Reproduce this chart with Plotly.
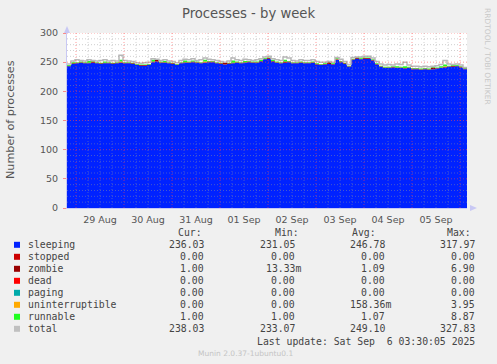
import pandas as pd
import plotly.graph_objects as go

# ---------------- data ----------------
start_time = "2025-08-28 19:30"
end_time = "2025-09-06 03:30"
step = "2h"

sleeping = [243, 247, 248, 249, 248, 248, 249, 248, 247, 248,
            248, 247, 248, 249, 248, 248, 247, 245, 244, 244,
            245, 250, 251, 249, 249, 248, 247, 245, 248, 249,
            249, 250, 249, 248, 249, 250, 250, 248, 247, 246,
            247, 248, 249, 248, 249, 250, 249, 249, 251, 255,
            256, 251, 249, 248, 249, 250, 248, 248, 249, 248,
            248, 249, 246, 245, 246, 247, 246, 254, 250, 247,
            242, 254, 256, 255, 256, 256, 253, 246, 242, 240,
            240, 241, 240, 240, 239, 240, 238, 238, 237, 238,
            237, 238, 239, 240, 241, 242, 242, 243, 241, 238]
stopped = [0] * 100
zombie = [1, 1, 1, 1, 1, 1, 2, 1, 1, 1,
          1, 1, 1, 1, 1, 1, 1, 1, 1, 1,
          1, 1, 3, 1, 1, 1, 1, 1, 1, 1,
          1, 1, 1, 1, 1, 1, 1, 1, 1, 3,
          1, 1, 1, 1, 1, 1, 1, 1, 1, 1,
          1, 1, 1, 1, 2, 1, 1, 1, 1, 1,
          1, 1, 1, 1, 1, 3, 1, 1, 1, 1,
          1, 1, 2, 1, 1, 1, 1, 1, 1, 1,
          1, 1, 1, 1, 1, 1, 1, 1, 1, 1,
          1, 3, 1, 1, 1, 1, 2, 1, 1, 1]
dead = [0] * 100
paging = [0] * 100
uninterruptible = [0, 0, 0, 0, 0, 0, 0, 0, 0, 0,
                   0, 0, 0, 1, 0, 0, 0, 0, 0, 0,
                   0, 0, 0, 0, 0, 0, 0, 0, 0, 0,
                   0, 0, 0, 0, 1, 0, 0, 0, 0, 0,
                   0, 0, 0, 0, 0, 0, 0, 0, 0, 0,
                   0, 0, 0, 0, 0, 0, 0, 0, 0, 0,
                   0, 0, 0, 0, 0, 0, 0, 1, 0, 0,
                   0, 0, 0, 0, 0, 0, 0, 0, 0, 0,
                   0, 0, 0, 0, 0, 0, 0, 0, 0, 0,
                   0, 0, 0, 0, 1, 0, 0, 0, 0, 0]
runnable = [1, 2, 1, 1, 1, 3, 1, 1, 1, 2,
            1, 1, 1, 3, 1, 1, 1, 1, 1, 1,
            1, 3, 1, 1, 2, 1, 1, 1, 1, 3,
            1, 2, 1, 1, 3, 1, 1, 1, 1, 1,
            1, 4, 1, 1, 2, 1, 1, 1, 2, 1,
            1, 2, 1, 1, 3, 1, 1, 1, 1, 1,
            1, 1, 1, 1, 1, 1, 1, 2, 1, 1,
            1, 1, 1, 2, 1, 1, 1, 1, 1, 1,
            1, 1, 2, 1, 3, 1, 1, 1, 1, 1,
            1, 1, 1, 2, 3, 1, 1, 1, 1, 1]
total = [247, 252, 254, 253, 252, 254, 253, 252, 253, 254,
         252, 253, 252, 262, 253, 252, 251, 249, 248, 249,
         250, 256, 255, 253, 254, 252, 251, 249, 253, 255,
         254, 256, 253, 254, 257, 255, 254, 253, 251, 250,
         252, 257, 254, 253, 255, 254, 253, 254, 256, 259,
         260, 256, 254, 253, 259, 257, 253, 252, 254, 253,
         253, 254, 251, 250, 250, 251, 250, 258, 255, 251,
         246, 258, 259, 259, 260, 260, 257, 251, 247, 245,
         246, 245, 247, 246, 250, 245, 243, 243, 242, 243,
         242, 243, 244, 246, 253, 247, 246, 247, 245, 241]

series_names = ["sleeping", "stopped", "zombie", "dead", "paging",
                "uninterruptible", "runnable", "total"]
series_colors = ["#0022ff", "#cc0000", "#990000", "#ff0000", "#00aaaa",
                 "#ffaa00", "#22ff22", "#c0c0c0"]
cur_vals = ["236.03", "0.00", "1.00", "0.00", "0.00", "0.00", "1.00", "238.03"]
min_vals = ["231.05", "0.00", "13.33m", "0.00", "0.00", "0.00", "1.00", "233.07"]
avg_vals = ["246.78", "0.00", "1.09", "0.00", "0.00", "158.36m", "1.07", "249.10"]
max_vals = ["317.97", "0.00", "6.90", "0.00", "0.00", "3.95", "8.87", "327.83"]

day_labels = ["29 Aug", "30 Aug", "31 Aug", "01 Sep", "02 Sep",
              "03 Sep", "04 Sep", "05 Sep"]
day_noons = ["2025-08-29 12:00", "2025-08-30 12:00", "2025-08-31 12:00",
             "2025-09-01 12:00", "2025-09-02 12:00", "2025-09-03 12:00",
             "2025-09-04 12:00", "2025-09-05 12:00"]
y_ticks = [0, 50, 100, 150, 200, 250, 300]

# ---------------- figure ----------------
W, H = 497, 364
L, R, T, B = 67, 467, 33, 208


def px(x):
    return (x - L) / (R - L)


def py(y):
    return (B - y) / (B - T)


times = pd.date_range(start_time, periods=len(sleeping) + 1, freq=step)


def ext(v):
    return list(v) + [v[-1]]


fig = go.Figure()
stack = [sleeping, stopped, zombie, dead, paging, uninterruptible, runnable]
for name, col, vals in zip(series_names[:7], series_colors[:7], stack):
    fig.add_trace(go.Scatter(
        x=times, y=ext(vals), name=name, mode="lines",
        stackgroup="procs", line=dict(width=0, shape="hv", color=col),
        fillcolor=col, hoverinfo="skip"))
fig.add_trace(go.Scatter(
    x=times, y=ext(total), name="total", mode="lines",
    line=dict(width=1.5, shape="hv", color="#b8b8b8"), hoverinfo="skip"))

shapes = []
# horizontal grid (above data, like rrdtool)
for v in range(10, 301, 10):
    major = v % 50 == 0
    shapes.append(dict(
        type="line", xref="paper", yref="y", x0=0, x1=1.005, y0=v, y1=v,
        layer="above",
        line=dict(width=1, dash="1px,2px",
                  color="rgba(255,70,70,0.55)" if major else "rgba(150,150,150,0.45)")))
# vertical grid
for t in pd.date_range("2025-08-29 00:00", "2025-09-06 00:00", freq="6h"):
    major = t.hour == 0
    shapes.append(dict(
        type="line", xref="x", yref="paper", x0=t, x1=t, y0=0, y1=1,
        layer="above",
        line=dict(width=1, dash="1px,2px",
                  color="rgba(255,70,70,0.55)" if major else "rgba(150,150,150,0.45)")))
# axis arrows
ax_col = "#c8c8f4"
shapes.append(dict(type="path", xref="paper", yref="paper", layer="above",
                   path=f"M {px(64)} {py(33)} L {px(70)} {py(33)} L {px(67)} {py(26)} Z",
                   fillcolor=ax_col, line=dict(width=0)))
shapes.append(dict(type="path", xref="paper", yref="paper", layer="above",
                   path=f"M {px(470)} {py(205)} L {px(470)} {py(211)} L {px(477)} {py(208)} Z",
                   fillcolor=ax_col, line=dict(width=0)))

annotations = []
mono = "DejaVu Sans Mono"
fs = 9.8
cw = 5.9
txt_col = "#444444"


def ann(text, x, y, anchor="left", size=fs, color=txt_col, family=mono):
    annotations.append(dict(
        text=text, x=px(x), y=py(y), xref="paper", yref="paper",
        xanchor=anchor, yanchor="middle", showarrow=False,
        font=dict(family=family, size=size, color=color)))


# header
ann("Cur:", 176, 232.5)
ann("Min:", 273, 232.5)
ann("Avg:", 350, 232.5)
ann("Max:", 445, 232.5)
col_ends = [205.7, 296.7, 386.7, 476.7]
for i, name in enumerate(series_names):
    yy = 244.8 + 12 * i
    shapes.append(dict(type="rect", xref="paper", yref="paper", layer="above",
                       x0=px(14), x1=px(20), y0=py(yy + 3), y1=py(yy - 3),
                       fillcolor=series_colors[i], line=dict(width=0)))
    ann(name, 26, yy)
    for ce, vals in zip(col_ends, [cur_vals, min_vals, avg_vals, max_vals]):
        s = vals[i]
        xr = ce + (cw if s.endswith("m") else 0)
        ann(s, xr, yy, anchor="right")
ann("Last update: Sat Sep\u00a0\u00a06 03:30:05 2025", 476.7, 341.5, anchor="right")
ann("Munin 2.0.37-1ubuntu0.1", 245, 353, anchor="center", size=7.5,
    color="#c4c4c4", family="DejaVu Sans")

# y-axis title
annotations.append(dict(
    text="Number of processes", x=px(10), y=py(120), xref="paper", yref="paper",
    xanchor="center", yanchor="middle", showarrow=False, textangle=-90,
    font=dict(family="DejaVu Sans", size=11.2, color="#555555")))
# rrdtool watermark
annotations.append(dict(
    text="RRDTOOL / TOBI OETIKER", x=px(488), y=py(56), xref="paper", yref="paper",
    xanchor="center", yanchor="middle", showarrow=False, textangle=90,
    font=dict(family="DejaVu Sans", size=7.5, color="#c8c8c8")))

fig.update_layout(
    width=W, height=H,
    margin=dict(l=L, r=W - R, t=T, b=H - B, pad=0),
    paper_bgcolor="#f0f0f0", plot_bgcolor="#ffffff",
    showlegend=False,
    title=dict(text="Processes - by week", x=0.5, xanchor="center",
               y=1 - 13 / H, yanchor="middle",
               font=dict(family="DejaVu Sans", size=13.2, color="#555555")),
    xaxis=dict(type="date", range=[start_time, end_time], showgrid=False,
               zeroline=False, tickmode="array", tickvals=day_noons,
               ticktext=day_labels, ticks="", showline=True, linecolor=ax_col,
               linewidth=1, tickfont=dict(family="DejaVu Sans", size=9.5, color="#555555"),
               ticklabelstandoff=3),
    yaxis=dict(range=[0, 300], showgrid=False, zeroline=False,
               tickmode="array", tickvals=y_ticks, ticks="outside", ticklen=3,
               tickcolor="rgba(255,70,70,0.6)", showline=True, linecolor=ax_col,
               linewidth=1, tickfont=dict(family="DejaVu Sans", size=9.5, color="#555555"),
               ticklabelstandoff=3),
    shapes=shapes, annotations=annotations,
    hovermode=False,
)

fig.write_html("out.html", config={"displayModeBar": False},
               post_script="document.body.style.margin='0';"
                           "document.body.style.background='#f0f0f0';")
